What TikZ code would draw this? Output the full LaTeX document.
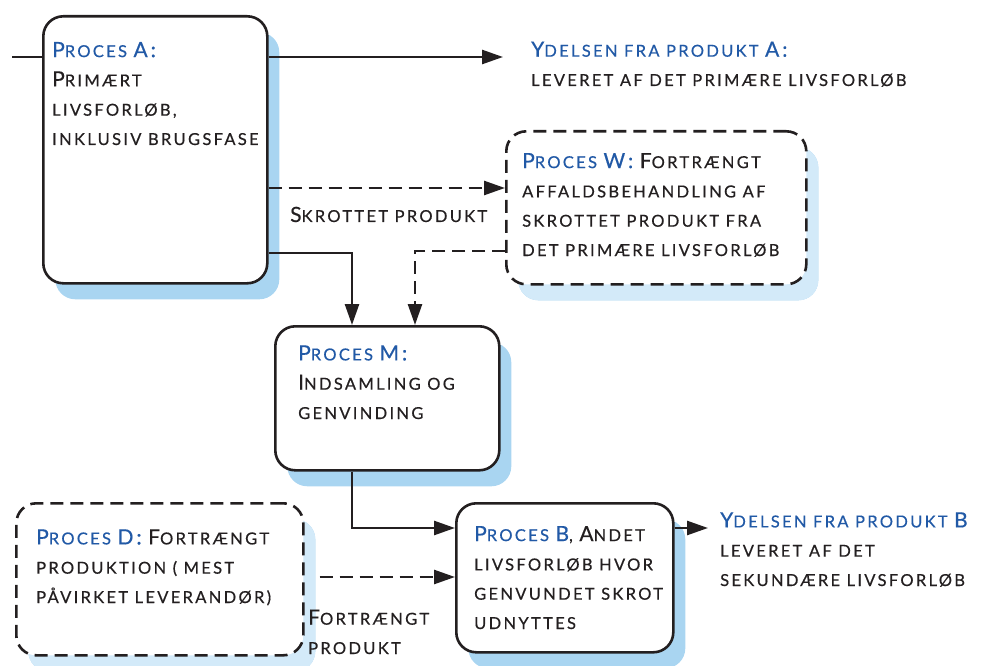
\documentclass[tikz,border=0pt]{standalone}
\usepackage{fontspec}
\setmainfont{Lato}[LetterSpace=14,FakeBold=0.5]
\usetikzlibrary{arrows.meta,shadows}

\definecolor{ink}{HTML}{231F20}
\definecolor{hdblue}{HTML}{2159A6}
\definecolor{shade}{HTML}{A9D5F1}
\definecolor{paleshade}{HTML}{D3EAF9}

% full-size initial capitals inside small-cap style text
\newcommand\bigc[1]{{\fontsize{21}{29.3}\selectfont #1}}
\newcommand\hd[1]{\textcolor{hdblue}{#1}}

% text nodes are placed by the baseline of their last line
\tikzset{
  x=1pt, y=-1pt,
  procbox/.style={draw=ink, line width=2.6pt, rounded corners=20pt, fill=white,
    anchor=north west, inner sep=0pt,
    general shadow={fill=shade, shadow xshift=12pt, shadow yshift=-16pt}},
  dprocbox/.style={procbox, dash pattern=on 13pt off 7pt,
    general shadow={fill=paleshade, shadow xshift=12pt, shadow yshift=-16pt}},
  txt/.style={anchor=base west, align=left, inner sep=0pt, text=ink,
    font=\fontsize{16.5}{29.3}\selectfont},
  conn/.style={draw=ink, line width=2.6pt},
  dconn/.style={conn, dash pattern=on 13pt off 7pt},
  tip/.style={-{Triangle[length=21pt,width=14pt]}},
}

\begin{document}
\begin{tikzpicture}
\useasboundingbox (0,0) rectangle (983,666);

% process boxes
\node[procbox,  minimum width=224pt, minimum height=267pt] (A) at (42,15) {};
\node[dprocbox, minimum width=300pt, minimum height=153pt] (W) at (505,130) {};
\node[procbox,  minimum width=224pt, minimum height=144pt] (M) at (274,325) {};
\node[dprocbox, minimum width=287pt, minimum height=152pt] (D) at (15,502) {};
\node[procbox,  minimum width=217pt, minimum height=149pt] (B) at (455,502) {};

% box texts
\node[txt] (At) at (52,145) {\hd{\bigc{P}ROCES \bigc{A:}}\\ \bigc{P}RIMÆRT\\ LIVSFORLØB,\\ INKLUSIV BRUGSFASE};
\node[txt] (Wt) at (522,256) {\hd{\bigc{P}ROCES \bigc{W:}} \bigc{F}ORTRÆNGT\\ AFFALDSBEHANDLING AF\\ SKROTTET PRODUKT FRA\\ DET PRIMÆRE LIVSFORLØB};
\node[txt] (Mt) at (298,419) {\hd{\bigc{P}ROCES \bigc{M:}}\\ \bigc{I}NDSAMLING OG\\ GENVINDING};
\node[txt] (Dt) at (36,603) {\hd{\bigc{P}ROCES \bigc{D:}} \bigc{F}ORTRÆNGT\\ PRODUKTION ( MEST\\ PÅVIRKET LEVERANDØR)};
\node[txt] (Bt) at (474,629) {\hd{\bigc{P}ROCES \bigc{B}}, \bigc{A}NDET\\ LIVSFORLØB HVOR\\ GENVUNDET SKROT\\ UDNYTTES};

% outputs and flow labels
\node[txt] (YA) at (531,86) {\hd{\bigc{Y}DELSEN FRA PRODUKT \bigc{A:}}\\ LEVERET AF DET PRIMÆRE LIVSFORLØB};
\node[txt] (YB) at (720,586) {\hd{\bigc{Y}DELSEN FRA PRODUKT \bigc{B}}\\ LEVERET AF DET\\ SEKUNDÆRE LIVSFORLØB};
\node[txt] (Sk) at (290,222) {\bigc{S}KROTTET PRODUKT};
\node[txt] (Fp) at (308,654) {\bigc{F}ORTRÆNGT\\ PRODUKT};

% connectors
\coordinate (src) at (12,57);
\coordinate (tipA) at (503,57);
\coordinate (k1) at (0,188);
\coordinate (k2) at (352,253);
\coordinate (k3) at (415,251);
\coordinate (k4) at (352,528);
\coordinate (k5) at (0,577);
\coordinate (tipB) at (708,528);

\draw[conn] (src) -- (src -| A.west);
\draw[conn,tip] (src -| A.east) -- (tipA);
\draw[dconn,tip] (k1 -| A.east) -- (k1 -| W.west);
\draw[conn,tip] (k2 -| A.east) -- (k2) -- (k2 |- M.north);
\draw[dconn,tip] (k3 -| W.west) -- (k3) -- (k3 |- M.north);
\draw[conn,tip] (k4 |- M.south) -- (k4) -- (k4 -| B.west);
\draw[dconn,tip,shorten <=15pt] (k5 -| D.east) -- (k5 -| B.west);
\draw[conn,tip] (tipB -| B.east) -- (tipB);
\end{tikzpicture}
\end{document}
